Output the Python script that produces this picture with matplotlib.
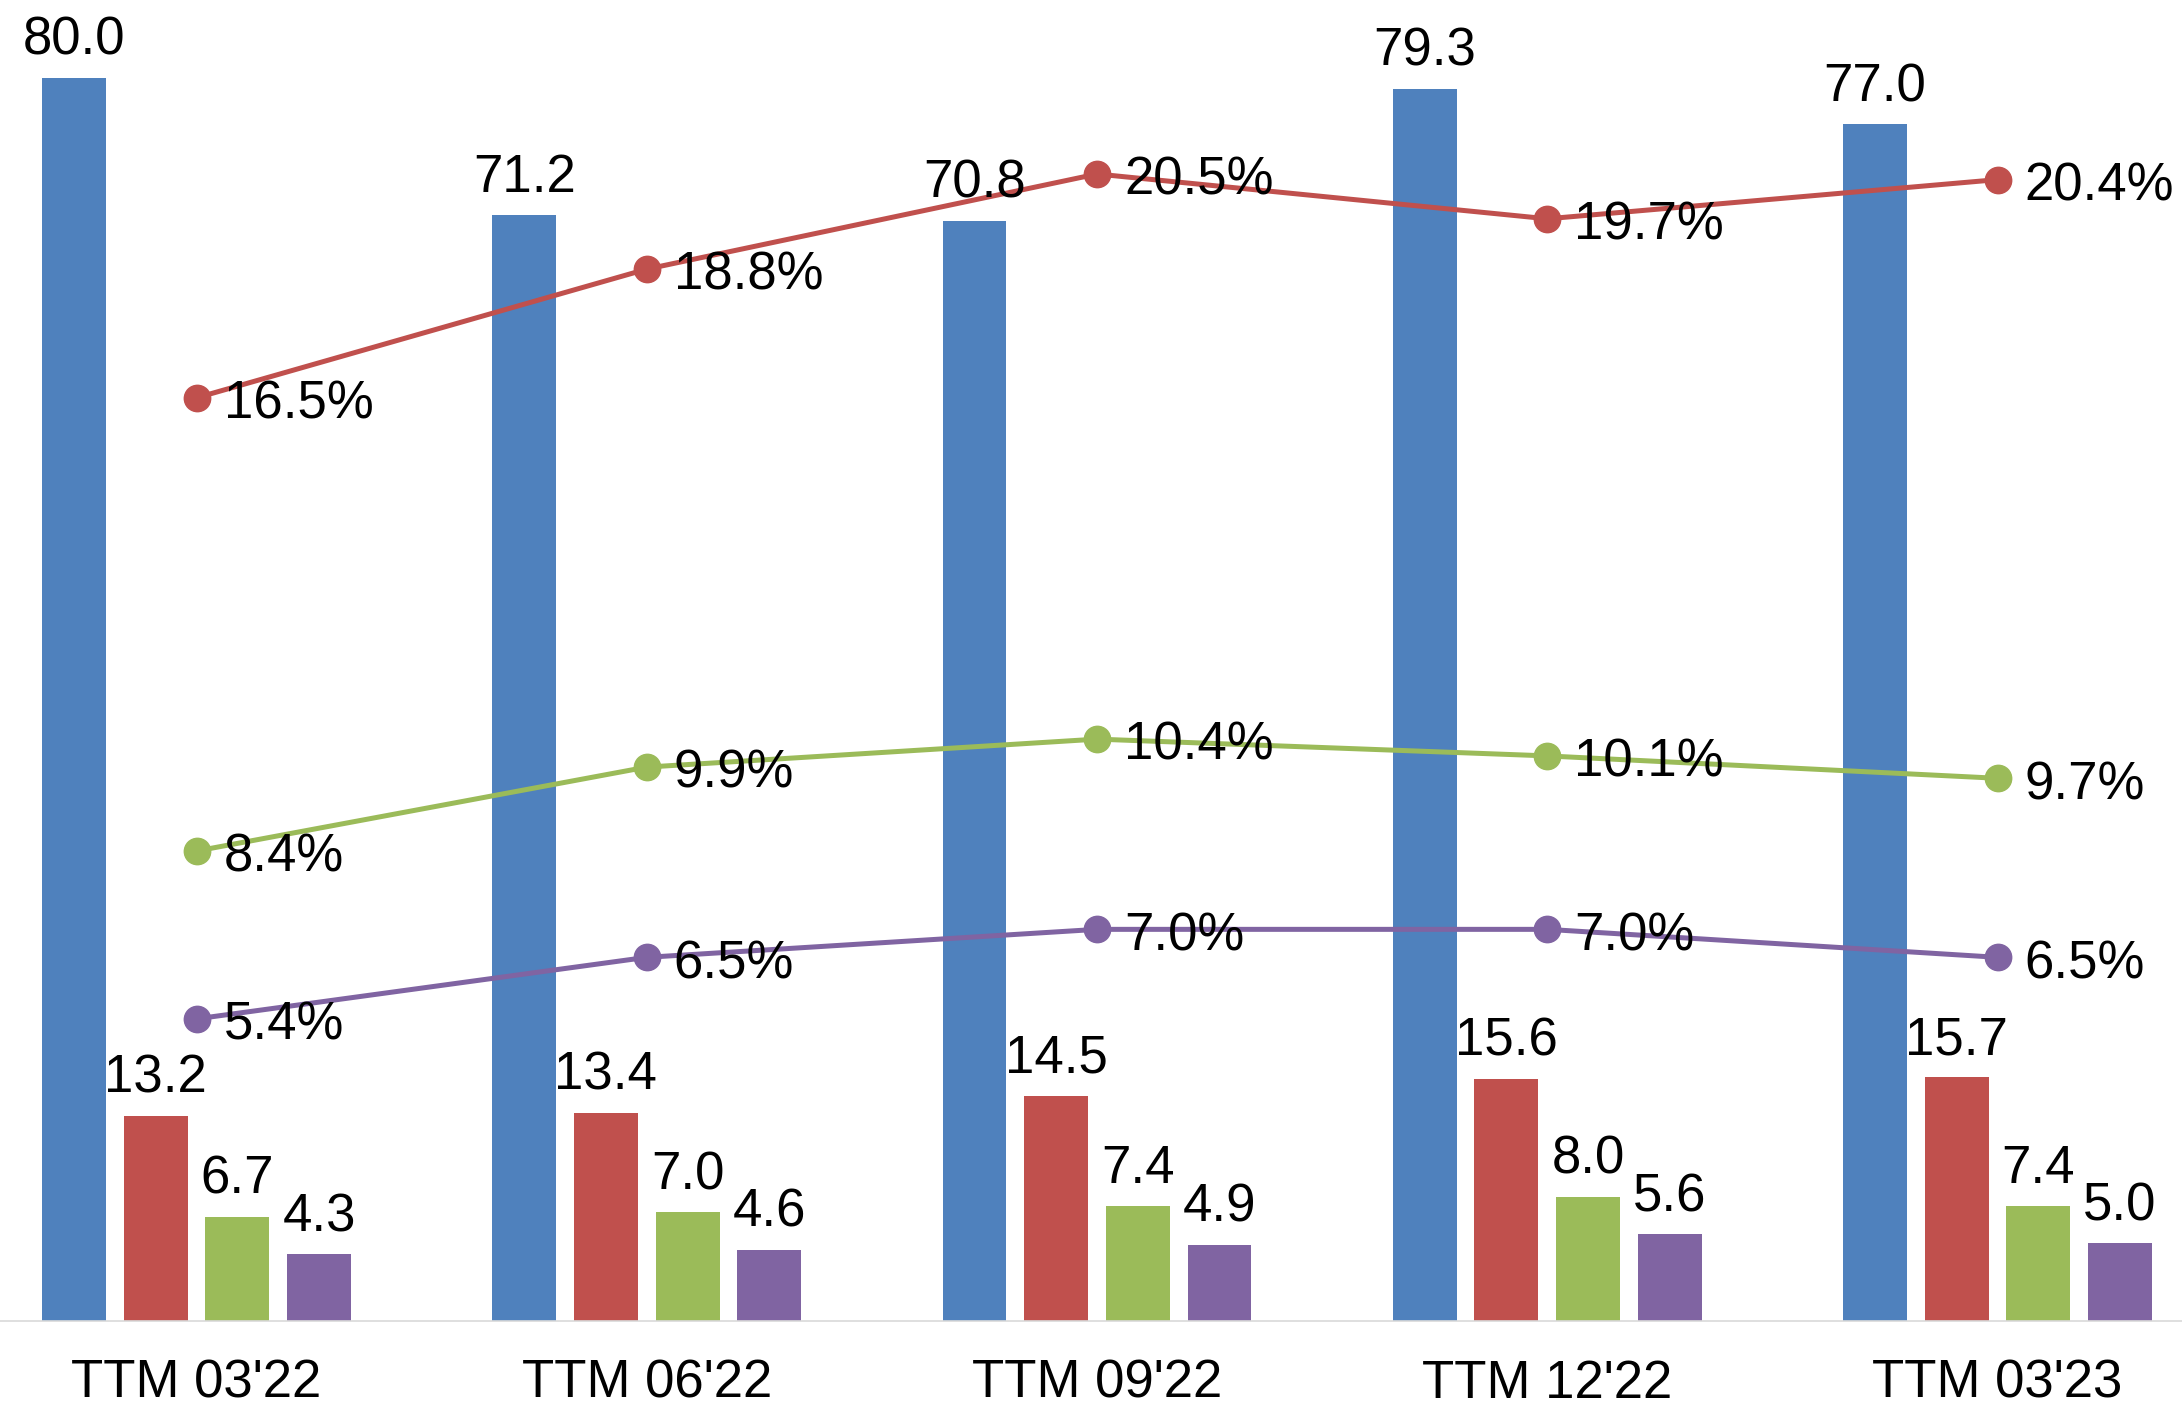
import matplotlib
matplotlib.use("Agg")
import matplotlib.pyplot as plt
import numpy as np

plt.rcParams['font.family'] = ['Liberation Sans', 'DejaVu Sans']

categories = ["TTM 03'22", "TTM 06'22", "TTM 09'22", "TTM 12'22", "TTM 03'23"]

# bar series (absolute values)
bars_blue = [80.0, 71.2, 70.8, 79.3, 77.0]
bars_red = [13.2, 13.4, 14.5, 15.6, 15.7]
bars_green = [6.7, 7.0, 7.4, 8.0, 7.4]
bars_purple = [4.3, 4.6, 4.9, 5.6, 5.0]

# line series (percent)
pct_red = [16.5, 18.8, 20.5, 19.7, 20.4]
pct_green = [8.4, 9.9, 10.4, 10.1, 9.7]
pct_purple = [5.4, 6.5, 7.0, 7.0, 6.5]

blue = '#4F81BD'
red = '#C0504D'
green = '#9BBB59'
purple = '#8064A2'

W, H = 2182, 1407
fig = plt.figure(figsize=(W / 100, H / 100), dpi=100)
base = 1321
ax = fig.add_axes([0, (H - base) / H, 1, base / H])
ax2 = ax.twinx()

x = np.arange(len(categories))
slot = 0.1814
bw = 0.142
series = [(bars_blue, blue), (bars_red, red), (bars_green, green), (bars_purple, purple)]
for i, (vals, col) in enumerate(series):
    xs = x + (i - 1.5) * slot
    ax.bar(xs, vals, width=bw, color=col, zorder=2)
    for xi, v in zip(xs, vals):
        ax2.annotate(f"{v:.1f}", xy=(xi, v), xycoords=ax.transData,
                     xytext=(0, 16.5), textcoords='offset points',
                     ha='center', va='baseline', fontsize=38, zorder=5)

for vals, col in [(pct_red, red), (pct_green, green), (pct_purple, purple)]:
    ax2.plot(x, vals, color=col, lw=3.6, marker='o', markersize=19,
             solid_capstyle='round', zorder=3)
    for xi, v in zip(x, vals):
        ax2.annotate(f"{v:.1f}%", xy=(xi, v), xytext=(19.5, -15),
                     textcoords='offset points', ha='left', va='baseline',
                     fontsize=38, zorder=5)

px = 450.25
ax.set_xlim(-196.5 / px, (W - 196.5) / px)
ax.set_ylim(0, base / 15.54)
ax2.set_ylim(0, base / 55.95)

for a in (ax, ax2):
    for s in a.spines.values():
        s.set_visible(False)
ax.spines['bottom'].set_visible(True)
ax.spines['bottom'].set_color('#D9D9D9')
ax.spines['bottom'].set_linewidth(1.2)

ax.set_xticks(x)
ax.set_xticklabels(categories, fontsize=38)
ax.tick_params(axis='x', length=0, pad=27)
ax.set_yticks([])
ax2.set_yticks([])

fig.savefig('out.png', dpi=100)
